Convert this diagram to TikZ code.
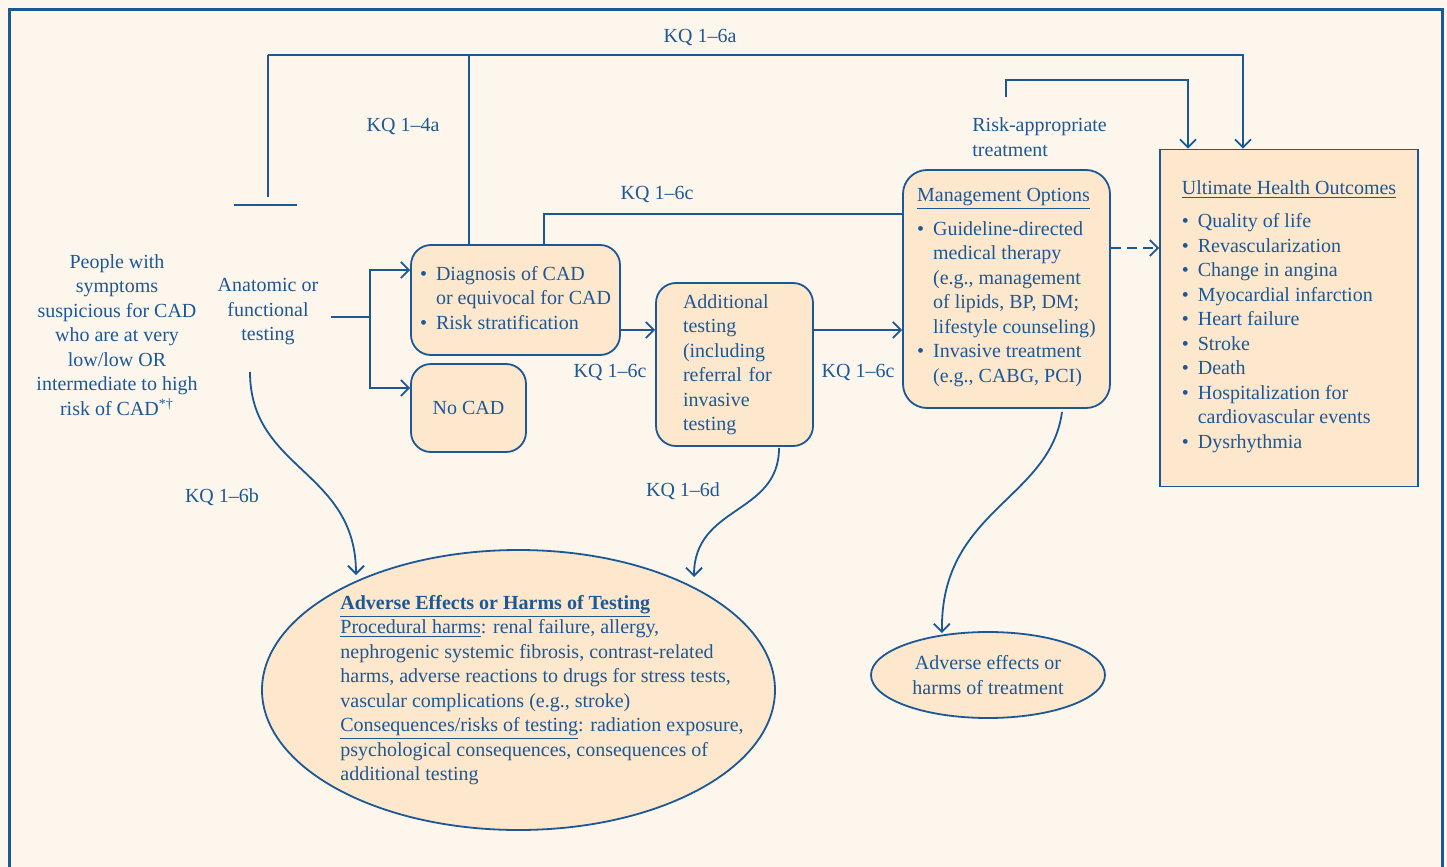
\documentclass[tikz,border=0pt]{standalone}
\usepackage{fontspec}
\setmainfont{Liberation Serif}
\usetikzlibrary{arrows.meta, shapes.geometric, positioning}
\definecolor{kqBlue}{RGB}{28, 88, 150}
\definecolor{kqCream}{RGB}{253, 246, 236}
\definecolor{kqPeach}{RGB}{253, 232, 206}
\newcommand{\bul}{\textbullet}

\begin{document}
\begin{tikzpicture}[
  x=0.5pt, y=-0.5pt,
  every node/.style={text=kqBlue, font=\fontsize{10}{12.25}\selectfont},
  box/.style={
    rectangle, rounded corners=10pt,
    draw=kqBlue, fill=kqPeach, line width=0.9pt,
    align=left
  },
  oval/.style={ellipse, draw=kqBlue, fill=kqPeach, line width=0.9pt, inner sep=0pt},
  plain/.style={inner sep=0pt, align=center},
  link/.style={draw=kqBlue, line width=0.9pt},
  >={Straight Barb[length=4pt, width=8pt]}
]

% canvas and frame
\useasboundingbox (0,0) rectangle (1447,867);
\fill[kqCream] (0,0) rectangle (1447,867);
\draw[kqBlue, line width=1.5pt] (9,9) rectangle (1442,900);

% population and test
\node[plain] (people) at (117,335)
  {People with\\symptoms\\suspicious for CAD\\who are at very\\low/low OR\\intermediate to high\\risk of CAD\textsuperscript{*†}};
\node[plain] (anat) at (268,312) {Anatomic or\\functional\\testing};

% result boxes
\node[box, minimum width=104.5pt, minimum height=55pt] (diag) at (515.5,300)
  {\begin{tabular}[t]{@{}l@{\hspace{4.5pt}}l@{}}
   \bul & Diagnosis of CAD\\
        & or equivocal for CAD\\
   \bul & Risk stratification
   \end{tabular}};
\node[box, minimum width=57.5pt, minimum height=44pt, align=center] (nocad) at (468.5,408) {No CAD};
\node[box, minimum width=78.5pt, minimum height=81.5pt, text width=51.5pt] (addl) at (734.5,364.5)
  {Additional\\testing\\(including\\referral for\\invasive\\testing};

% management
\node[box, rounded corners=12pt, minimum width=103.5pt, minimum height=119pt] (mgmt) at (1006.5,289)
  {\underline{Management Options}\\[3pt]
   \begin{tabular}[t]{@{}l@{\hspace{4.5pt}}l@{}}
   \bul & Guideline-directed\\
        & medical therapy\\
        & (e.g., management\\
        & of lipids, BP, DM;\\
        & lifestyle counseling)\\
   \bul & Invasive treatment\\
        & (e.g., CABG, PCI)
   \end{tabular}};
\node[plain, anchor=west, align=left] (risk) at (972,137) {Risk-appropriate\\treatment};

% outcomes
\node[box, rounded corners=0pt, minimum width=129pt, minimum height=168.5pt] (outcome) at (1289,318)
  {\underline{Ultimate Health Outcomes}\\[4.5pt]
   \begin{tabular}[t]{@{}l@{\hspace{4.5pt}}l@{}}
   \bul & Quality of life\\
   \bul & Revascularization\\
   \bul & Change in angina\\
   \bul & Myocardial infarction\\
   \bul & Heart failure\\
   \bul & Stroke\\
   \bul & Death\\
   \bul & Hospitalization for\\
        & cardiovascular events\\
   \bul & Dysrhythmia
   \end{tabular}};

% harms
\node[oval, minimum width=256.5pt, minimum height=140pt] (harmtest) at (518.5,690) {};
\node[plain, anchor=west, align=left] (harmtext) at (340,690)
  {\underline{\textbf{Adverse Effects or Harms of Testing}}\\
   \underline{Procedural harms}: renal failure, allergy,\\
   nephrogenic systemic fibrosis, contrast-related\\
   harms, adverse reactions to drugs for stress tests,\\
   vascular complications (e.g., stroke)\\
   \underline{Consequences/risks of testing}: radiation exposure,\\
   psychological consequences, consequences of\\
   additional testing};
\node[oval, minimum width=117pt, minimum height=43pt, align=center] (harmtreat) at (988,675)
  {Adverse effects or\\harms of treatment};

% key question labels
\node[plain] (kq6a) at (700,37) {KQ 1–6a};
\node[plain] (kq4a) at (403,126) {KQ 1–4a};
\node[plain] (kq6ctop) at (657,194) {KQ 1–6c};
\node[plain] (kq6cl) at (610,372) {KQ 1–6c};
\node[plain] (kq6cr) at (858,372) {KQ 1–6c};
\node[plain] (kq6b) at (222,497) {KQ 1–6b};
\node[plain] (kq6d) at (683,491) {KQ 1–6d};

% junction points
\coordinate (topL) at (268,55);
\coordinate (topM) at (469,55);
\coordinate (topR) at (1243,55);
\coordinate (blockbar) at (268,205);
\coordinate (split) at (370,317);
\coordinate (rowA) at (640,330);
\coordinate (kq6cturn) at (544,214);
\coordinate (riskStart) at (1006,97);
\coordinate (riskTurn) at (1188,80);
\coordinate (dashrow) at (1130,248);
\coordinate (b6start) at (250,372);
\coordinate (d6start) at (779,448);
\coordinate (trstart) at (1062,412);

% overarching KQ 1-6a and KQ 1-4a
\draw[link, ->] (topL) -- (topR) -- (topR |- outcome.north);
\draw[link] (topL) -- ([yshift=4pt]blockbar);
\draw[link] ([xshift=-17pt]blockbar) -- ([xshift=14.5pt]blockbar);
\draw[link] (topM) -- (topM |- diag.north);

% testing pathway
\draw[link] (anat.east |- split) ++(6pt,0) -- (split);
\draw[link, ->] (split) |- ([yshift=15pt]diag.west);
\draw[link, ->] (split) |- ([yshift=10pt]nocad.west);
\draw[link, ->] (diag.east |- rowA) -- (addl.west |- rowA);
\draw[link, ->] (addl.east |- rowA) -- (mgmt.west |- rowA);
\draw[link] (kq6cturn |- diag.north) -- (kq6cturn) -- (kq6cturn -| mgmt.west);
\draw[link, ->] (riskStart) |- (riskTurn) -- (riskTurn |- outcome.north);
\draw[link, ->, dash pattern=on 5pt off 3pt] (mgmt.east |- dashrow) -- (outcome.west |- dashrow);

% harms
\draw[link, ->] (b6start) .. controls (250,470) and (356,470) .. (356,575);
\draw[link, ->] (d6start) .. controls (779,515) and (694,505) .. (694,577);
\draw[link, ->] (trstart) .. controls (1050,500) and (940,510) .. (942,633);

\end{tikzpicture}
\end{document}
